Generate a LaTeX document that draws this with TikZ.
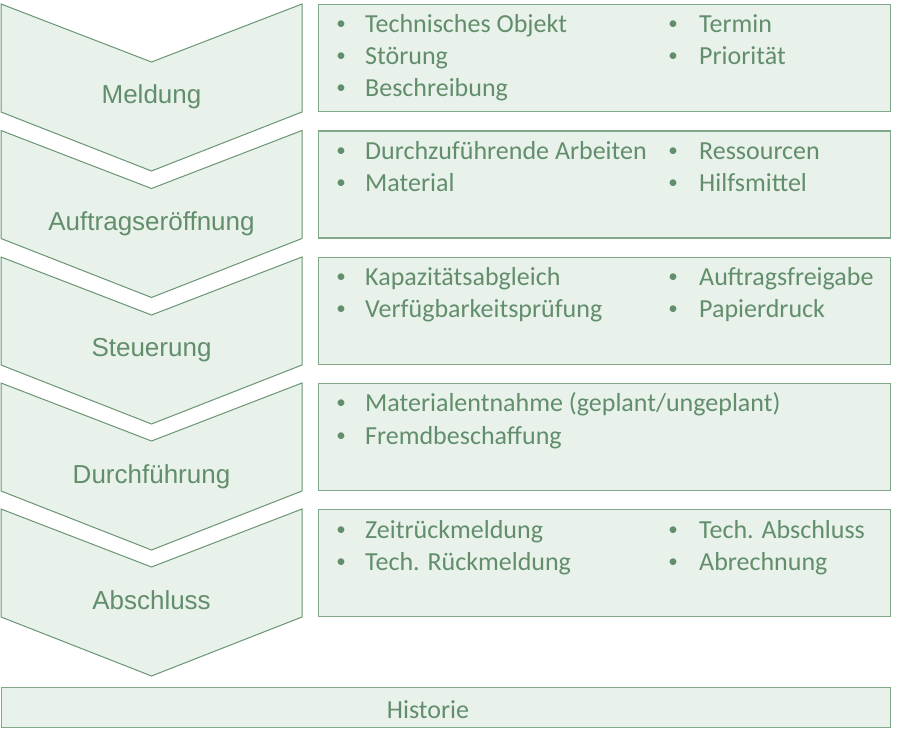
\documentclass[tikz,border=0pt]{standalone}
\usepackage{fontspec}
\setmainfont{Carlito}
\newfontfamily\phasefont{Liberation Sans}
\definecolor{pfill}{RGB}{232,241,234}
\definecolor{pline}{RGB}{106,149,116}
\definecolor{boxline}{RGB}{128,168,137}
\definecolor{ptext}{RGB}{98,142,108}

\begin{document}
\begin{tikzpicture}[x=1pt,y=-1pt,
  chevron/.style={fill=pfill, draw=pline, line width=1pt, line join=miter},
  infobox/.style={fill=pfill, draw=boxline, line width=1.3pt, rectangle,
    minimum width=572pt, minimum height=107pt, anchor=north west, inner sep=0pt},
  phase/.style={font=\phasefont\fontsize{26}{30}\selectfont, text=ptext,
    inner sep=0pt, anchor=base},
  item/.style={font=\fontsize{26}{30}\selectfont, text=ptext,
    inner sep=0pt, anchor=base west},
  bul/.style={font=\fontsize{19}{22}\selectfont, text=ptext,
    inner sep=0pt, anchor=base}]

\useasboundingbox (0,0) rectangle (898,746);

% phase chevrons and their titles
\foreach \t/\name/\lab in {4/p1/Meldung, 130.5/p2/Auftragseröffnung,
    257/p3/Steuerung, 383/p4/Durchführung, 509/p5/Abschluss} {
  \draw[chevron] (1,\t) -- (151.5,\t+58) -- (302,\t) -- (302,\t+108)
    -- (151.5,\t+167) -- (1,\t+108) -- cycle;
  \node[phase] (\name) at (151.5,\t+100) {\lab};
}

% detail boxes
\node[infobox] (b1) at (318,4) {};
\node[infobox] (b2) at (318,130.5) {};
\node[infobox] (b3) at (318,257) {};
\node[infobox] (b4) at (318,383) {};
\node[infobox] (b5) at (318,509) {};

% bulleted entries: left column at 341/365, right column at 673/699
\foreach \y/\txt/\nm in {33/Technisches Objekt/i11, 65/Störung/i12, 97/Beschreibung/i13,
    159.5/Durchzuführende Arbeiten/i21, 191.5/Material/i22,
    286/Kapazitätsabgleich/i31, 318/Verfügbarkeitsprüfung/i32,
    412/{Materialentnahme (geplant/ungeplant)}/i41, 444/Fremdbeschaffung/i42,
    538/Zeitrückmeldung/i51, 570/Tech. Rückmeldung/i52} {
  \node[bul] (\nm b) at (341,\y-3) {•};
  \node[item] (\nm) at (365,\y) {\txt};
}
\foreach \y/\txt/\nm in {33/Termin/j11, 65/Priorität/j12,
    159.5/Ressourcen/j21, 191.5/Hilfsmittel/j22,
    286/Auftragsfreigabe/j31, 318/Papierdruck/j32,
    538/Tech. Abschluss/j51, 570/Abrechnung/j52} {
  \node[bul] (\nm b) at (673,\y-3) {•};
  \node[item] (\nm) at (699,\y) {\txt};
}

% history bar
\node[infobox, minimum width=889pt, minimum height=40pt] (hist) at (1,687) {};
\node[item, anchor=base] (histlabel) at (428,718) {Historie};
\end{tikzpicture}
\end{document}
